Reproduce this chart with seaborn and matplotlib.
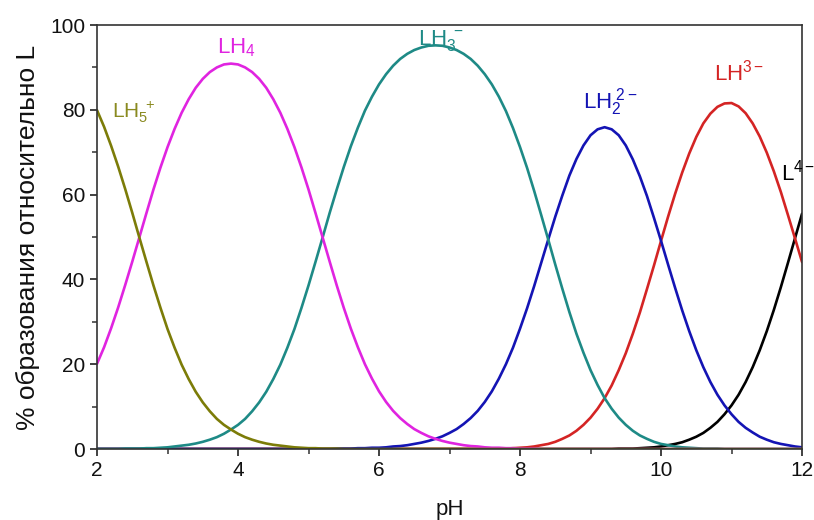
import numpy as np
import pandas as pd
import matplotlib
matplotlib.use("Agg")
import matplotlib.pyplot as plt
import seaborn as sns

# pH grid, step 0.1 (one row of each list below = one pH unit)
ph = [round(2 + 0.1 * i, 1) for i in range(101)]

# % of each species relative to total L
lh5 = [79.9, 76.0, 71.5, 66.6, 61.3, 55.7, 49.9, 44.2, 38.6, 33.3,
       28.3, 23.9, 19.9, 16.5, 13.5, 11.0, 8.9, 7.1, 5.7, 4.6,
       3.6, 2.8, 2.2, 1.7, 1.3, 1.0, 0.8, 0.6, 0.4, 0.3,
       0.2, 0.2, 0.1, 0.1, 0.1, 0, 0, 0, 0, 0,
       0, 0, 0, 0, 0, 0, 0, 0, 0, 0,
       0, 0, 0, 0, 0, 0, 0, 0, 0, 0,
       0, 0, 0, 0, 0, 0, 0, 0, 0, 0,
       0, 0, 0, 0, 0, 0, 0, 0, 0, 0,
       0, 0, 0, 0, 0, 0, 0, 0, 0, 0,
       0, 0, 0, 0, 0, 0, 0, 0, 0, 0,
       0]
lh4 = [20.1, 24.0, 28.5, 33.4, 38.7, 44.2, 49.9, 55.6, 61.2, 66.4,
       71.2, 75.5, 79.3, 82.5, 85.2, 87.3, 88.9, 90.0, 90.7, 90.9,
       90.7, 90.0, 88.9, 87.3, 85.2, 82.5, 79.3, 75.5, 71.2, 66.4,
       61.2, 55.6, 49.9, 44.2, 38.6, 33.3, 28.4, 24.0, 20.0, 16.6,
       13.6, 11.1, 9.0, 7.3, 5.9, 4.7, 3.8, 3.0, 2.4, 1.9,
       1.5, 1.2, 0.9, 0.7, 0.6, 0.4, 0.3, 0.3, 0.2, 0.2,
       0.1, 0.1, 0.1, 0, 0, 0, 0, 0, 0, 0,
       0, 0, 0, 0, 0, 0, 0, 0, 0, 0,
       0, 0, 0, 0, 0, 0, 0, 0, 0, 0,
       0, 0, 0, 0, 0, 0, 0, 0, 0, 0,
       0]
lh3 = [0, 0, 0, 0, 0.1, 0.1, 0.1, 0.2, 0.2, 0.3,
       0.4, 0.6, 0.8, 1.0, 1.3, 1.7, 2.2, 2.8, 3.6, 4.6,
       5.7, 7.1, 8.9, 11.0, 13.5, 16.5, 19.9, 23.9, 28.3, 33.3,
       38.6, 44.2, 49.9, 55.7, 61.2, 66.5, 71.4, 75.8, 79.8, 83.1,
       86.0, 88.4, 90.4, 92.0, 93.2, 94.1, 94.7, 95.1, 95.2, 95.1,
       94.7, 94.1, 93.2, 92.0, 90.4, 88.4, 86.0, 83.1, 79.7, 75.7,
       71.2, 66.3, 60.9, 55.2, 49.4, 43.5, 37.8, 32.3, 27.2, 22.7,
       18.6, 15.1, 12.0, 9.5, 7.4, 5.7, 4.3, 3.2, 2.4, 1.7,
       1.2, 0.9, 0.6, 0.4, 0.3, 0.2, 0.1, 0.1, 0.1, 0,
       0, 0, 0, 0, 0, 0, 0, 0, 0, 0,
       0]
lh2 = [0, 0, 0, 0, 0, 0, 0, 0, 0, 0,
       0, 0, 0, 0, 0, 0, 0, 0, 0, 0,
       0, 0, 0, 0, 0, 0, 0, 0, 0, 0,
       0, 0, 0, 0, 0.1, 0.1, 0.1, 0.2, 0.2, 0.3,
       0.3, 0.4, 0.6, 0.7, 0.9, 1.2, 1.5, 1.9, 2.4, 3.0,
       3.8, 4.7, 5.9, 7.3, 9.0, 11.1, 13.6, 16.6, 20.0, 23.9,
       28.4, 33.2, 38.4, 43.9, 49.4, 54.8, 59.8, 64.5, 68.4, 71.6,
       74.0, 75.4, 75.9, 75.4, 74.0, 71.6, 68.3, 64.3, 59.7, 54.5,
       49.1, 43.5, 38.0, 32.7, 27.8, 23.3, 19.3, 15.8, 12.8, 10.3,
       8.2, 6.4, 5.0, 3.9, 2.9, 2.2, 1.6, 1.2, 0.9, 0.6,
       0.4]
lh1 = [0, 0, 0, 0, 0, 0, 0, 0, 0, 0,
       0, 0, 0, 0, 0, 0, 0, 0, 0, 0,
       0, 0, 0, 0, 0, 0, 0, 0, 0, 0,
       0, 0, 0, 0, 0, 0, 0, 0, 0, 0,
       0, 0, 0, 0, 0, 0, 0, 0, 0, 0,
       0, 0, 0, 0, 0, 0, 0.1, 0.1, 0.1, 0.2,
       0.3, 0.4, 0.6, 0.9, 1.2, 1.7, 2.4, 3.2, 4.3, 5.7,
       7.4, 9.5, 12.0, 15.0, 18.6, 22.6, 27.2, 32.2, 37.7, 43.3,
       49.1, 54.8, 60.2, 65.2, 69.7, 73.6, 76.8, 79.1, 80.7, 81.5,
       81.6, 80.8, 79.2, 76.8, 73.7, 69.9, 65.5, 60.6, 55.2, 49.7,
       44.1]
l0 = [0, 0, 0, 0, 0, 0, 0, 0, 0, 0,
      0, 0, 0, 0, 0, 0, 0, 0, 0, 0,
      0, 0, 0, 0, 0, 0, 0, 0, 0, 0,
      0, 0, 0, 0, 0, 0, 0, 0, 0, 0,
      0, 0, 0, 0, 0, 0, 0, 0, 0, 0,
      0, 0, 0, 0, 0, 0, 0, 0, 0, 0,
      0, 0, 0, 0, 0, 0, 0, 0, 0, 0,
      0, 0, 0, 0, 0.1, 0.1, 0.1, 0.2, 0.3, 0.4,
      0.6, 0.9, 1.2, 1.6, 2.2, 2.9, 3.8, 5.0, 6.4, 8.2,
      10.3, 12.8, 15.8, 19.3, 23.3, 27.8, 32.8, 38.2, 43.9, 49.7,
      55.5]

species = ["L4-", "LH3-", "LH2 2-", "LH3 -", "LH4", "LH5+"]
series = [l0, lh1, lh2, lh3, lh4, lh5]
labels = [r"$\mathregular{L^{4-}}$", r"$\mathregular{LH^{3-}}$", r"$\mathregular{LH_2^{\ 2-}}$",
          r"$\mathregular{LH_3^{\ -}}$", r"$\mathregular{LH_4}$", r"$\mathregular{LH_5^{\ +}}$"]
label_pos = [(11.70, 63.4), (10.75, 86.8), (8.89, 80.4), (6.55, 95.3), (3.70, 93.4), (2.21, 78.3)]
label_size = [16, 16, 16, 16, 16, 15]
line_colors = ["#000000", "#d42424", "#1414b4", "#1e8a86", "#e024e0", "#7c7c08"]
text_colors = ["#000000", "#d42424", "#1414b4", "#1e8a86", "#e024e0", "#8a8a20"]

for s in series:
    assert len(s) == len(ph)

df = pd.DataFrame({
    "pH": ph * len(species),
    "pct": sum(series, []),
    "species": sum([[s] * len(ph) for s in species], []),
})

sns.set_theme(style="ticks")
plt.rcParams["font.family"] = ["Liberation Sans", "DejaVu Sans"]
plt.rcParams["mathtext.fontset"] = "custom"
plt.rcParams["mathtext.rm"] = "Liberation Sans"
plt.rcParams["mathtext.it"] = "Liberation Sans:italic"
plt.rcParams["mathtext.bf"] = "Liberation Sans:bold"

fig = plt.figure(figsize=(8.14, 5.20), dpi=100)
ax = fig.add_axes([0.1192, 0.1365, 0.8661, 0.8154])

sns.lineplot(data=df, x="pH", y="pct", hue="species", hue_order=species,
             palette=dict(zip(species, line_colors)), linewidth=1.9,
             legend=False, ax=ax, estimator=None, sort=True)

for lab, (x, y), c, fs in zip(labels, label_pos, text_colors, label_size):
    ax.text(x, y, lab, color=c, fontsize=fs, ha="left", va="baseline")

ax.set_xlim(2, 12)
ax.set_ylim(0, 100)
ax.set_xticks([2, 4, 6, 8, 10, 12])
ax.set_xticks([3, 5, 7, 9, 11], minor=True)
ax.set_yticks([0, 20, 40, 60, 80, 100])
ax.set_yticks([10, 30, 50, 70, 90], minor=True)
ax.tick_params(axis="both", which="major", direction="out", length=5, width=1.3,
               labelsize=15, colors="#333333", labelcolor="#111111")
ax.tick_params(axis="both", which="minor", direction="out", length=3.5, width=1.1,
               colors="#333333")
ax.tick_params(top=False, right=False)
for side in ["left", "bottom", "top", "right"]:
    ax.spines[side].set_visible(True)
    ax.spines[side].set_linewidth(1.2)
    ax.spines[side].set_color("#333333")

ax.set_xlabel("pH", fontsize=16, color="#111111", labelpad=14)
ax.set_ylabel("% образования относительно L", fontsize=19, color="#111111", labelpad=7)

fig.savefig("out.png", dpi=100)
